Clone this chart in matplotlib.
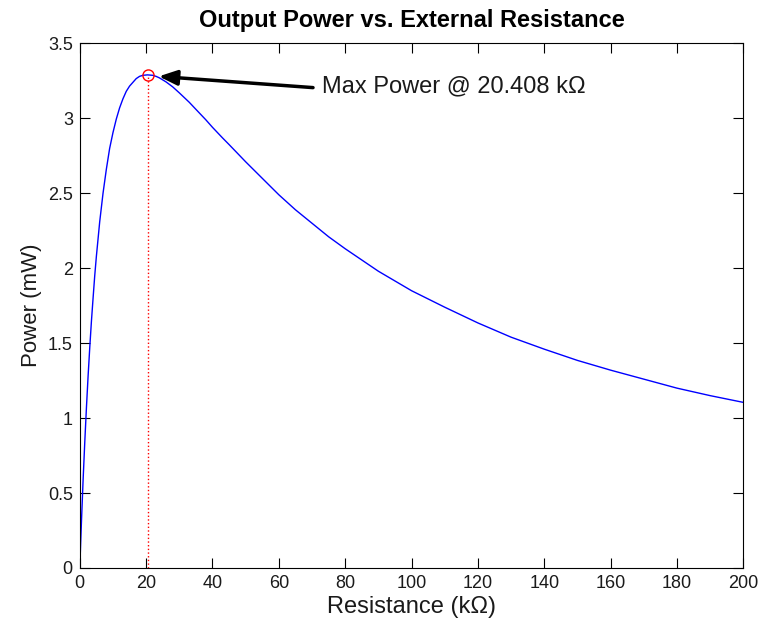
import matplotlib
matplotlib.use("Agg")
import matplotlib.pyplot as plt

plt.rcParams['font.family'] = ['Liberation Sans', 'DejaVu Sans']

# resistance (kOhm) and power (mW)
resistance = [0, 0.25, 0.5, 1, 1.5, 2, 2.5, 3, 3.5, 4, 4.5, 5, 6, 7, 8, 9, 10,
              11, 12, 13, 14, 15, 16, 17, 18, 19, 20.408, 22, 23, 24, 26, 28,
              30, 33, 35, 38, 40, 43, 45, 50, 55, 60, 65, 70, 75, 80, 85, 90,
              95, 100, 110, 120, 130, 140, 150, 160, 170, 180, 190, 200]
power = [0, 0.16, 0.31, 0.59, 0.84, 1.07, 1.28, 1.47, 1.645, 1.80, 1.95,
         2.08, 2.31, 2.50, 2.66, 2.80, 2.905, 2.995, 3.07, 3.13, 3.18, 3.215,
         3.24, 3.265, 3.28, 3.287, 3.29, 3.287, 3.28, 3.27, 3.243, 3.21, 3.17,
         3.107, 3.06, 2.99, 2.94, 2.87, 2.825, 2.71, 2.60, 2.49, 2.39, 2.30,
         2.21, 2.13, 2.055, 1.98, 1.915, 1.85, 1.74, 1.635, 1.54, 1.46, 1.385,
         1.32, 1.26, 1.20, 1.15, 1.105]

r_max = 20.408
p_max = 3.29
label = "Max Power @ 20.408 k\u03a9"

fig = plt.figure(figsize=(7.6, 6.29), dpi=100)
ax = fig.add_axes([0.105, 0.097, 0.873, 0.834])

ax.plot(resistance, power, color='blue', linewidth=1)
ax.plot([r_max, r_max], [0, p_max], color='red', linestyle=':', linewidth=1)
ax.plot(r_max, p_max, 'o', markerfacecolor='none', markeredgecolor='red',
        markersize=8, markeredgewidth=1)

ax.annotate('', xy=(23.8, 3.28), xytext=(70.3, 3.205),
            arrowprops=dict(arrowstyle='-|>,head_length=1.1,head_width=0.45',
                            color='black', linewidth=2.5, shrinkA=0, shrinkB=0))
ax.text(73, 3.215, label, fontsize=17, va='center', ha='left', color='#1a1a1a')

ax.set_xlim(0, 200)
ax.set_ylim(0, 3.5)
ax.set_xticks(range(0, 201, 20))
ax.set_yticks([0, 0.5, 1, 1.5, 2, 2.5, 3, 3.5])
ax.set_yticklabels(['0', '0.5', '1', '1.5', '2', '2.5', '3', '3.5'])
ax.tick_params(direction='in', length=7, width=0.8, labelsize=13,
               top=True, right=True, pad=5, labelcolor='#1a1a1a')
for s in ax.spines.values():
    s.set_linewidth(0.8)

ax.set_xlabel('Resistance (k\u03a9)', fontsize=17, labelpad=3, color='#1a1a1a')
ax.set_ylabel('Power (mW)', fontsize=16, labelpad=4, color='#1a1a1a')
ax.set_title('Output Power vs. External Resistance', fontsize=17,
             fontweight='bold', pad=12)

fig.savefig('out.png', dpi=100)
